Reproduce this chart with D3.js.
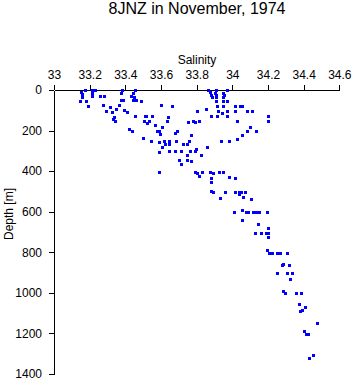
<!DOCTYPE html>
<html>
<head>
<meta charset="utf-8">
<script src="https://cdn.jsdelivr.net/npm/d3@7"></script>
<style>
  body { margin: 0; background: #fff; }
  svg { display: block; font-family: "Liberation Sans", Arial, sans-serif; }
  .axis path, .axis line { stroke: #000; shape-rendering: crispEdges; }
  .axis text { fill: #000; font-size: 12px; }
</style>
</head>
<body>
<div id="chart"></div>
<script>
(function () {
    // salinity / depth pairs
    const salinity = [
        33.176, 33.150, 33.157, 33.159, 33.148, 33.181, 33.189, 33.213, 33.232, 33.213,
        33.213, 33.258, 33.280, 33.273, 33.290, 33.316, 33.325, 33.348, 33.337, 33.333,
        33.344, 33.381, 33.374, 33.377, 33.389, 33.366, 33.391, 33.409, 33.456, 33.443,
        33.434, 33.449, 33.445, 33.460, 33.490, 33.600, 33.454, 33.509, 33.516, 33.550,
        33.505, 33.531, 33.523, 33.565, 33.419, 33.437, 33.578, 33.591, 33.595, 33.501,
        33.542, 33.587, 33.591, 33.591, 33.607,
        33.865, 33.875, 33.882, 33.888, 33.907, 33.901, 33.907, 33.907, 33.950, 33.953,
        33.950, 33.969, 33.909, 33.950, 33.969, 33.916, 33.950, 33.918, 33.969, 33.941,
        33.879, 33.916, 33.972, 33.660, 33.804, 33.852, 34.013, 34.043, 34.054, 34.013,
        34.084, 33.639, 33.632, 33.781, 33.792, 33.815, 33.753, 34.028, 33.607, 33.677,
        33.688, 33.770, 34.053, 34.084, 34.028, 33.617, 33.621, 33.643, 33.647, 33.684,
        33.725, 33.744, 33.759, 33.937, 33.980, 33.643, 33.677, 33.711, 33.744, 33.763,
        33.789, 33.796, 33.856, 33.823, 33.703, 33.711, 33.744, 33.767,
        33.789, 33.800, 33.830, 33.875, 33.893, 33.924, 33.950,
        34.112, 34.202, 34.202, 34.101, 34.133,
        33.812, 33.882, 33.882, 33.983, 34.017, 33.879, 33.893, 33.957, 34.017, 34.036,
        34.047, 34.070, 34.036, 34.062, 34.103, 33.931, 34.011, 34.056, 34.077, 34.088,
        34.114, 34.133, 34.151, 34.193, 34.053, 34.144, 34.199, 34.126, 34.159, 34.189,
        34.202, 34.202, 34.196, 34.204,
        34.224, 34.249, 34.268, 34.305, 34.279, 34.286, 34.316, 34.249, 34.305, 34.335,
        34.325, 34.283, 34.294, 34.357, 34.387, 34.374, 34.408, 34.393, 34.381, 34.477,
        34.402, 34.413, 34.426, 34.454, 34.428
    ];
    const depth = [
        0, 12, 22, 34, 53, 53, 78, 1, 0, 14,
        31, 29, 31, 75, 103, 83, 108, 95, 132, 144,
        152, 1, 17, 47, 50, 73, 100, 110, 0, 14,
        29, 34, 50, 47, 53, 73, 127, 127, 127, 127,
        152, 152, 165, 174, 190, 201, 201, 201, 218, 235,
        251, 254, 304, 404, 279,
        1, 12, 26, 34, 1, 14, 26, 34, 14, 27,
        34, 1, 53, 53, 53, 78, 78, 103, 103, 113,
        127, 127, 127, 77, 103, 96, 78, 78, 78, 103,
        103, 134, 152, 152, 156, 152, 160, 152, 182, 211,
        203, 223, 221, 201, 240, 251, 268, 251, 264, 251,
        268, 264, 251, 251, 251, 300, 300, 300, 320, 300,
        300, 289, 280, 320, 347, 363, 343, 350,
        402, 409, 402, 402, 409, 402, 402,
        105, 127, 152, 184, 201,
        424, 432, 453, 429, 434, 498, 503, 503, 503, 503,
        503, 503, 515, 527, 537, 532, 601, 592, 601, 601,
        601, 601, 601, 601, 641, 659, 680, 704, 704, 704,
        704, 725, 788, 804,
        804, 804, 804, 804, 862, 857, 863, 903, 903, 903,
        932, 989, 1003, 1003, 1003, 1053, 1071, 1084, 1090, 1150,
        1189, 1202, 1202, 1305, 1322
    ];
    const salinityTicks = [33, 33.2, 33.4, 33.6, 33.8, 34, 34.2, 34.4, 34.6];
    const depthTicks = [0, 200, 400, 600, 800, 1000, 1200, 1400];

    const width = 353, height = 384;

    const svg = d3.select("#chart")
        .append("svg")
        .attr("width", width)
        .attr("height", height);

    const x = d3.scaleLinear().domain([33, 34.6]).range([54, 339.3]);
    const y = d3.scaleLinear().domain([0, 1400]).range([90, 374]);

    // title and axis labels
    svg.append("text")
        .attr("x", 197)
        .attr("y", 13.5)
        .attr("text-anchor", "middle")
        .style("font-size", "16px")
        .text("8JNZ in November, 1974");

    svg.append("text")
        .attr("x", 197)
        .attr("y", 64)
        .attr("text-anchor", "middle")
        .style("font-size", "12px")
        .text("Salinity");

    svg.append("text")
        .attr("transform", "translate(13,214) rotate(-90)")
        .attr("text-anchor", "middle")
        .style("font-size", "12px")
        .text("Depth [m]");

    // axes
    svg.append("g")
        .attr("class", "axis")
        .attr("transform", "translate(0,90)")
        .call(d3.axisTop(x).tickValues(salinityTicks).tickFormat(d3.format("")).tickSize(5).tickSizeOuter(0).tickPadding(6));

    svg.append("g")
        .attr("class", "axis")
        .attr("transform", "translate(54,0)")
        .call(d3.axisLeft(y).tickValues(depthTicks).tickFormat(d3.format("d")).tickSize(5).tickSizeOuter(0).tickPadding(7));

    // points
    const points = salinity.map((s, i) => ({ s: s, d: depth[i] }));

    svg.append("g")
        .selectAll("rect")
        .data(points)
        .enter().append("rect")
        .attr("x", d => Math.round(x(d.s)) - 1)
        .attr("y", d => Math.round(y(d.d)) - 1)
        .attr("width", 3)
        .attr("height", 3)
        .attr("fill", "#0000ff")
        .attr("shape-rendering", "crispEdges");
})();
</script>
</body>
</html>
